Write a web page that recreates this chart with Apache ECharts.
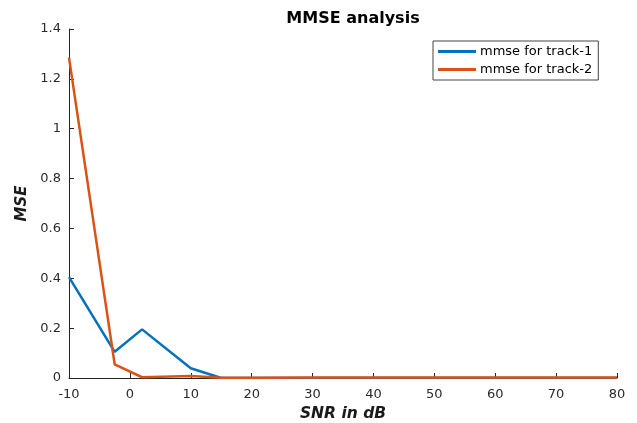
<!DOCTYPE html>
<html>
<head>
<meta charset="utf-8">
<script src="https://cdn.jsdelivr.net/npm/echarts@6/dist/echarts.min.js"></script>
<style>html,body{margin:0;padding:0;background:#fff;}#c{width:637px;height:423px;}</style>
</head>
<body>
<div id="c"></div>
<script>
const snr = [-10, -2.5, 2, 10, 15, 20, 30, 40, 50, 60, 70, 80];
const track1 = [0.405, 0.105, 0.195, 0.039, 0, 0, 0, 0, 0, 0, 0, 0];
const track2 = [1.285, 0.055, 0.003, 0.008, 0.001, 0.001, 0.002, 0.002, 0.002, 0.002, 0.002, 0.002];
const seriesNames = ['mmse for track-1', 'mmse for track-2'];
const xTicks = [-10, 0, 10, 20, 30, 40, 50, 60, 70, 80];
const yTicks = [0, 0.2, 0.4, 0.6, 0.8, 1, 1.2, 1.4];

const chart = echarts.init(document.getElementById('c'));
const font = 'DejaVu Sans, Verdana, sans-serif';
chart.setOption({
  animation: false,
  backgroundColor: '#fff',
  title: {
    text: 'MMSE analysis', left: 348, top: 6, textAlign: 'center',
    textStyle: { fontFamily: font, fontSize: 16, fontWeight: 'bold', color: '#000' }
  },
  legend: {
    orient: 'vertical', left: 433, top: 41,
    padding: [3, 6, 3, 5], itemGap: 3,
    itemWidth: 38, itemHeight: 3,
    borderColor: '#444', borderWidth: 1, backgroundColor: '#fff',
    icon: 'rect',
    textStyle: { fontFamily: font, fontSize: 13, color: '#000', padding: [0, 0, 0, -1], lineHeight: 15 },
    data: seriesNames
  },
  grid: { left: 69, right: 20, top: 29, bottom: 45, outerBoundsMode: 'none', containLabel: false },
  xAxis: {
    type: 'value', min: xTicks[0], max: xTicks[xTicks.length - 1], interval: 10,
    name: 'SNR in dB', nameLocation: 'middle', nameGap: 28,
    nameTextStyle: { fontFamily: font, fontSize: 15.5, fontWeight: 'bold', fontStyle: 'italic', color: '#1a1a1a' },
    axisLine: { onZero: false, lineStyle: { color: '#262626', width: 1 } },
    axisTick: { inside: true, length: 5, lineStyle: { color: '#262626' } },
    axisLabel: { fontFamily: font, fontSize: 13, color: '#2b2b2b', margin: 10 },
    splitLine: { show: false }
  },
  yAxis: {
    type: 'value', min: yTicks[0], max: yTicks[yTicks.length - 1], interval: 0.2,
    name: 'MSE', nameLocation: 'middle', nameGap: 39, nameRotate: 90,
    nameTextStyle: { fontFamily: font, fontSize: 15, fontWeight: 'bold', fontStyle: 'italic', color: '#1a1a1a' },
    axisLine: { show: true, onZero: false, lineStyle: { color: '#262626', width: 1 } },
    axisTick: { show: true, inside: true, length: 5, lineStyle: { color: '#262626' } },
    axisLabel: { fontFamily: font, fontSize: 13, color: '#2b2b2b', margin: 8 },
    splitLine: { show: false }
  },
  series: [
    {
      name: seriesNames[0], type: 'line', showSymbol: false, symbol: 'none',
      data: snr.map((x, i) => [x, track1[i]]),
      lineStyle: { color: '#0072BD', width: 2.5 }, itemStyle: { color: '#0072BD' }
    },
    {
      name: seriesNames[1], type: 'line', showSymbol: false, symbol: 'none',
      data: snr.map((x, i) => [x, track2[i]]),
      lineStyle: { color: '#D95319', width: 2.5 }, itemStyle: { color: '#D95319' }
    }
  ]
});
</script>
</body>
</html>
